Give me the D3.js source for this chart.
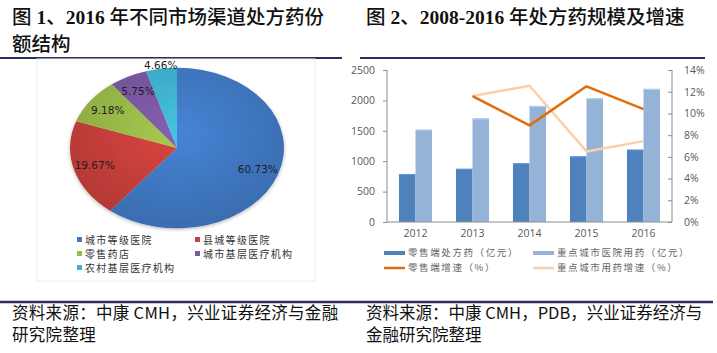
<!DOCTYPE html>
<html>
<head>
<meta charset="utf-8">
<script src="https://cdn.jsdelivr.net/npm/d3@7"></script>
<style>
  html, body { margin: 0; padding: 0; background: #fff; }
  svg { display: block; }
</style>
</head>
<body>
<svg id="c" width="717" height="353"></svg>
<script>
// ---------- data ----------
const pieCategories = ["城市等级医院", "县城等级医院", "零售药店", "城市基层医疗机构", "农村基层医疗机构"];
const pieValues = [60.73, 19.67, 9.18, 5.75, 4.66];
const pieColors = ["#4179c4", "#c83f3b", "#9aba48", "#7a58a3", "#3fb2cf"];

const years = ["2012", "2013", "2014", "2015", "2016"];
const retailRx = [790, 875, 965, 1080, 1190];          // 零售端处方药（亿元）
const cityHospital = [1520, 1705, 1910, 2035, 2190];   // 重点城市医院用药（亿元）
const retailGrowth = [null, 11.6, 8.9, 12.5, 10.4];    // 零售端增速（%）
const cityGrowth = [null, 11.6, 12.55, 6.5, 7.45];     // 重点城市用药增速（%）
const leftTicks = [0, 500, 1000, 1500, 2000, 2500];
const rightTicks = [0, 2, 4, 6, 8, 10, 12, 14];

const barSeriesNames = ["零售端处方药（亿元）", "重点城市医院用药（亿元）"];
const lineSeriesNames = ["零售端增速（%）", "重点城市用药增速（%）"];
const barColors = ["#4f81bd", "#95b3d7"];
const lineColors = ["#e36c0a", "#fbcfa8"];

const titleLeft = ["图 1、2016 年不同市场渠道处方药份", "额结构"];
const titleRight = "图 2、2008-2016 年处方药规模及增速";
const sourceLeft = ["资料来源：中康 CMH，兴业证券经济与金融", "研究院整理"];
const sourceRight = ["资料来源：中康 CMH，PDB，兴业证券经济与", "金融研究院整理"];

// ---------- setup ----------
const svg = d3.select("#c");
const navy = "#2c2f5c";
const cjk = "'Noto Sans CJK SC', 'Noto Sans', sans-serif";
const titleFont = "'Liberation Serif', 'Noto Sans CJK SC', serif";

function titleText(x, y, str) {
  const t = svg.append("text").attr("x", x).attr("y", y)
    .attr("font-family", titleFont).attr("font-size", 19.5).attr("fill", "#111");
  str.split(/([0-9\-]+)/).forEach(part => {
    if (!part) return;
    t.append("tspan").attr("font-weight", /^[0-9\-]+$/.test(part) ? 700 : 500).text(part);
  });
}
titleLeft.forEach((t, i) => titleText(12, 24 + i * 27, t));
titleText(366, 24, titleRight);

// rules
svg.append("line").attr("x1", 0).attr("x2", 342).attr("y1", 58).attr("y2", 58)
  .attr("stroke", navy).attr("stroke-width", 2);
svg.append("line").attr("x1", 360).attr("x2", 705).attr("y1", 58).attr("y2", 58)
  .attr("stroke", navy).attr("stroke-width", 2);
svg.append("line").attr("x1", 0).attr("x2", 713).attr("y1", 302).attr("y2", 302)
  .attr("stroke", navy).attr("stroke-width", 2.5);

// sources
sourceLeft.forEach((t, i) => {
  svg.append("text").attr("x", 12).attr("y", 319 + i * 22)
    .attr("font-family", cjk).attr("font-size", 16.5).attr("letter-spacing", 0.3).attr("fill", "#111").text(t);
});
sourceRight.forEach((t, i) => {
  svg.append("text").attr("x", 366).attr("y", 319 + i * 22)
    .attr("font-family", cjk).attr("font-size", 16.5).attr("fill", "#111").text(t);
});

// ---------- pie ----------
svg.append("rect").attr("x", 37).attr("y", 59).attr("width", 278).attr("height", 222)
  .attr("fill", "#fff").attr("stroke", "#eeeeee").attr("stroke-width", 1);

const cx = 177, cy = 148, R = 107, squash = 0.75;
const defs = svg.append("defs");
pieColors.forEach((c, i) => {
  const g = defs.append("radialGradient").attr("id", "pg" + i)
    .attr("gradientUnits", "userSpaceOnUse").attr("cx", 0).attr("cy", -20).attr("r", R * 1.25);
  g.append("stop").attr("offset", "0%").attr("stop-color", d3.color(c).brighter(0.25));
  g.append("stop").attr("offset", "100%").attr("stop-color", d3.color(c).darker(0.35));
});
const filt = defs.append("filter").attr("id", "shadow").attr("x", "-20%").attr("y", "-20%").attr("width", "140%").attr("height", "140%");
filt.append("feDropShadow").attr("dx", 0).attr("dy", 2).attr("stdDeviation", 2).attr("flood-color", "#000").attr("flood-opacity", 0.25);

const pie = d3.pie().sort(null).value(d => d)(pieValues);
const arc = d3.arc().innerRadius(0).outerRadius(R);
const pg = svg.append("g").attr("transform", `translate(${cx},${cy}) scale(1,${squash})`);
pg.append("g").attr("filter", "url(#shadow)").selectAll("path").data(pie).join("path")
  .attr("d", arc).attr("fill", (d, i) => `url(#pg${i})`);

const total = d3.sum(pieValues);
const labelK = d => (d.value / total < 0.05 ? 1.04 : 0.8);
svg.append("g").selectAll("text").data(pie).join("text")
  .attr("x", d => cx + Math.sin((d.startAngle + d.endAngle) / 2) * R * labelK(d))
  .attr("y", d => cy - Math.cos((d.startAngle + d.endAngle) / 2) * R * squash * labelK(d))
  .attr("dy", "0.35em").attr("text-anchor", "middle")
  .attr("font-family", "'DejaVu Sans', sans-serif").attr("font-size", 10.5)
  .attr("fill", "#1e1e1e")
  .text(d => d.value.toFixed(2) + "%");

// pie legend
pieCategories.forEach((name, i) => {
  const col = i % 2, row = Math.floor(i / 2);
  const lx = 77 + col * 118, ly = 240 + row * 14;
  svg.append("rect").attr("x", lx).attr("y", ly - 3).attr("width", 5).attr("height", 5).attr("fill", pieColors[i]);
  svg.append("text").attr("x", lx + 8).attr("y", ly).attr("dy", "0.35em")
    .attr("font-family", cjk).attr("font-size", 10).attr("letter-spacing", 1.3)
    .attr("fill", "#333").text(name);
});

// ---------- bar + line chart ----------
const pL = 387, pR = 672, pT = 70, pB = 222;
const x = d3.scaleBand().domain(years).range([pL, pR]).paddingInner(0.42).paddingOuter(0.21);
const xSub = d3.scaleBand().domain([0, 1]).range([0, x.bandwidth()]);
const yL = d3.scaleLinear().domain([0, 2500]).range([pB, pT]);
const yR = d3.scaleLinear().domain([0, 14]).range([pB, pT]);
const xc = d3.scalePoint().domain(years).range([pL, pR]).padding(0.5);

const axisColor = "#8c8c8c";
const labelFont = "'Open Sans', 'Liberation Sans', sans-serif";

// bars
[retailRx, cityHospital].forEach((vals, s) => {
  svg.append("g").selectAll("rect").data(vals).join("rect")
    .attr("x", (d, i) => x(years[i]) + xSub(s))
    .attr("width", xSub.bandwidth())
    .attr("y", d => yL(d))
    .attr("height", d => pB - yL(d))
    .attr("fill", barColors[s]);
  svg.append("g").selectAll("line").data(vals).join("line")
    .attr("x1", (d, i) => x(years[i]) + xSub(s))
    .attr("x2", (d, i) => x(years[i]) + xSub(s) + xSub.bandwidth())
    .attr("y1", d => yL(d) + 0.5).attr("y2", d => yL(d) + 0.5)
    .attr("stroke", d3.color(barColors[s]).brighter(0.5)).attr("stroke-width", 1);
});

// axes
const axL = svg.append("g").attr("transform", `translate(${pL},0)`)
  .call(d3.axisLeft(yL).tickValues(leftTicks).tickSize(4).tickPadding(8).tickFormat(d3.format("d")));
const axR = svg.append("g").attr("transform", `translate(${pR},0)`)
  .call(d3.axisRight(yR).tickValues(rightTicks).tickSize(4).tickPadding(8).tickFormat(d => d + "%"));
const axB = svg.append("g").attr("transform", `translate(0,${pB})`)
  .call(d3.axisBottom(x).tickSize(0).tickPadding(8));
[axL, axR, axB].forEach(a => {
  a.select(".domain").attr("stroke", axisColor);
  a.selectAll(".tick line").attr("stroke", axisColor);
  a.selectAll("text").attr("font-family", labelFont).attr("font-size", 10.5).attr("fill", "#595959");
});
axR.selectAll(".tick line").attr("x2", -4);
axR.select(".domain").attr("d", `M0,${pT}V${pB}`);
axL.select(".domain").attr("d", `M0,${pT}V${pB}`);
axB.select(".domain").attr("d", `M${pL},0H${pR}`);

// lines (city first, retail on top)
const lineGen = d3.line().defined(d => d != null).x((d, i) => xc(years[i])).y(d => yR(d));
[cityGrowth, retailGrowth].forEach((vals, k) => {
  svg.append("path").datum(vals).attr("d", lineGen)
    .attr("fill", "none").attr("stroke", lineColors[1 - k]).attr("stroke-width", 2.5)
    .attr("stroke-linejoin", "round");
});

// legend
const legendItems = [
  { name: barSeriesNames[0], color: barColors[0], w: 4 },
  { name: barSeriesNames[1], color: barColors[1], w: 4 },
  { name: lineSeriesNames[0], color: lineColors[0], w: 2.5 },
  { name: lineSeriesNames[1], color: lineColors[1], w: 2.5 }
];
legendItems.forEach((it, i) => {
  const col = i % 2, row = Math.floor(i / 2);
  const lx = 384 + col * 149, ly = 253 + row * 15;
  svg.append("line").attr("x1", lx).attr("x2", lx + 21).attr("y1", ly).attr("y2", ly)
    .attr("stroke", it.color).attr("stroke-width", it.w);
  svg.append("text").attr("x", lx + 24).attr("y", ly).attr("dy", "0.35em")
    .attr("font-family", cjk).attr("font-size", 9.5).attr("letter-spacing", 1.6)
    .attr("fill", "#666").text(it.name);
});
</script>
</body>
</html>
